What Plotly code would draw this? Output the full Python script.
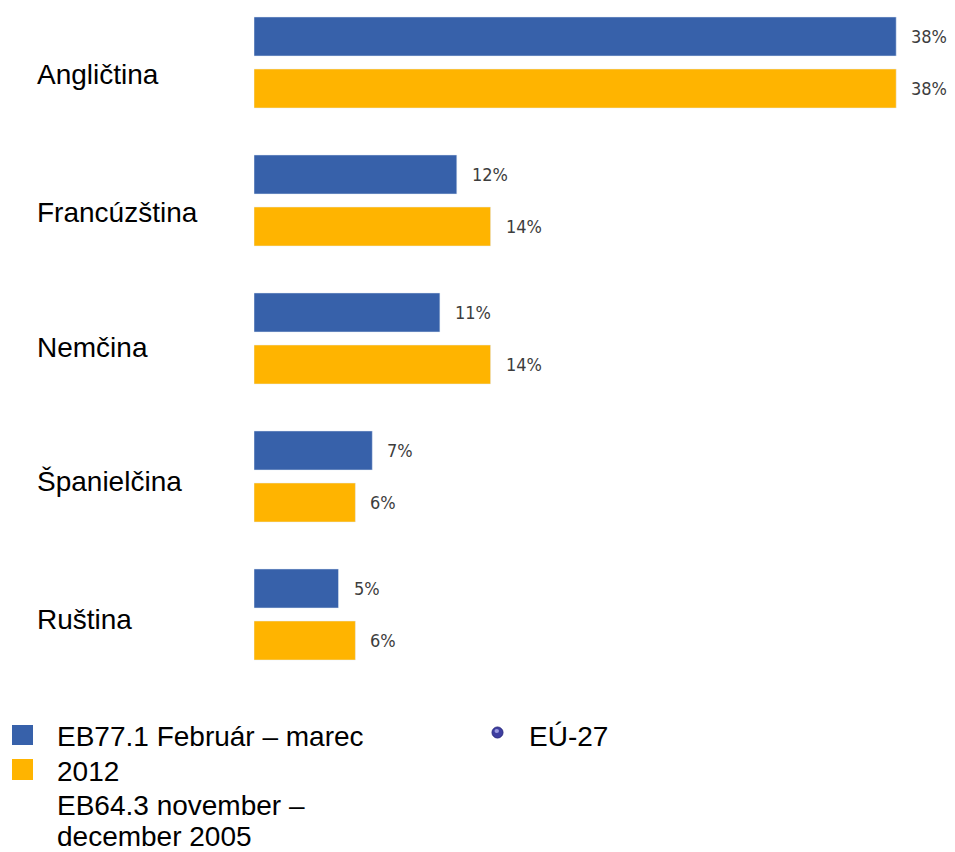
import plotly.graph_objects as go

# Languages and survey shares (%)
languages = ["Angličtina", "Francúzština", "Nemčina", "Španielčina", "Ruština"]
eb77_2012 = [38, 12, 11, 7, 5]
eb64_2005 = [38, 14, 14, 6, 6]

series_names = ["EB77.1 Február – marec 2012", "EB64.3 november – december 2005"]
legend_lines = ["EB77.1 Február – marec", "2012", "EB64.3 november –", "december 2005"]
eu_label = "EÚ-27"

BLUE = "#3761AA"
ORANGE = "#FFB400"
W, H = 955, 852
L, T, PW, PH = 254, 0, 676, 690  # plot area in pixels
TEXT_FONT = "Liberation Sans, Arial, sans-serif"


def px_x(p):
    return (p - L) / PW


def px_y(p):
    return (T + PH - p) / PH


fig = go.Figure()
fig.add_trace(go.Bar(y=languages, x=eb77_2012, orientation="h", name=series_names[0],
                     marker=dict(color=BLUE), showlegend=False, hoverinfo="x+y"))
fig.add_trace(go.Bar(y=languages, x=eb64_2005, orientation="h", name=series_names[1],
                     marker=dict(color=ORANGE), showlegend=False, hoverinfo="x+y"))

annotations = []
# value labels right of each bar
for vals, off in ((eb77_2012, -0.1884), (eb64_2005, 0.1884)):
    for i, v in enumerate(vals):
        annotations.append(dict(
            x=v, y=i + off, xref="x", yref="y", text=f"{v}%", showarrow=False,
            xanchor="left", yanchor="middle", xshift=13,
            font=dict(family="Liberation Sans Narrow, DejaVu Sans Condensed, Arial Narrow, sans-serif",
                      size=18, color="#3d3d3d")))

# category labels, left aligned
label_shift = [-12, -12, -9, -4.5, -4.5]
for i, name in enumerate(languages):
    annotations.append(dict(
        x=px_x(35), y=i, xref="paper", yref="y", text=name, showarrow=False,
        xanchor="left", yanchor="middle", yshift=label_shift[i],
        font=dict(family=TEXT_FONT, size=28, color="#000000")))

# legend text
for line, yc in zip(legend_lines, [737, 771, 805, 836]):
    annotations.append(dict(
        x=px_x(55), y=px_y(yc), xref="paper", yref="paper", text=line, showarrow=False,
        xanchor="left", yanchor="middle",
        font=dict(family=TEXT_FONT, size=28, color="#000000")))
annotations.append(dict(
    x=px_x(527), y=px_y(737), xref="paper", yref="paper", text=eu_label, showarrow=False,
    xanchor="left", yanchor="middle",
    font=dict(family=TEXT_FONT, size=28, color="#000000")))

shapes = [
    dict(type="rect", xref="paper", yref="paper", x0=px_x(12), x1=px_x(33),
         y0=px_y(745), y1=px_y(725), fillcolor=BLUE, line=dict(width=0)),
    dict(type="rect", xref="paper", yref="paper", x0=px_x(12), x1=px_x(33),
         y0=px_y(780), y1=px_y(759), fillcolor=ORANGE, line=dict(width=0)),
    dict(type="circle", xref="paper", yref="paper", x0=px_x(492), x1=px_x(503),
         y0=px_y(738), y1=px_y(727), fillcolor="#3E3EA0", line=dict(color="#2A2A80", width=1)),
    dict(type="circle", xref="paper", yref="paper", x0=px_x(494.5), x1=px_x(499),
         y0=px_y(733), y1=px_y(729), fillcolor="#9A9AE0", line=dict(width=0)),
]

fig.update_layout(
    width=W, height=H,
    margin=dict(l=L, r=W - L - PW, t=T, b=H - T - PH, pad=0),
    paper_bgcolor="white", plot_bgcolor="white",
    barmode="group", bargap=0.246, bargroupgap=0.25,
    xaxis=dict(range=[0, 40], visible=False, fixedrange=True),
    yaxis=dict(range=[(PH - 62.5) / 138, -62.5 / 138], visible=False, fixedrange=True,
               type="category", categoryorder="array", categoryarray=languages),
    annotations=annotations, shapes=shapes,
)

fig.write_html("out.html")
